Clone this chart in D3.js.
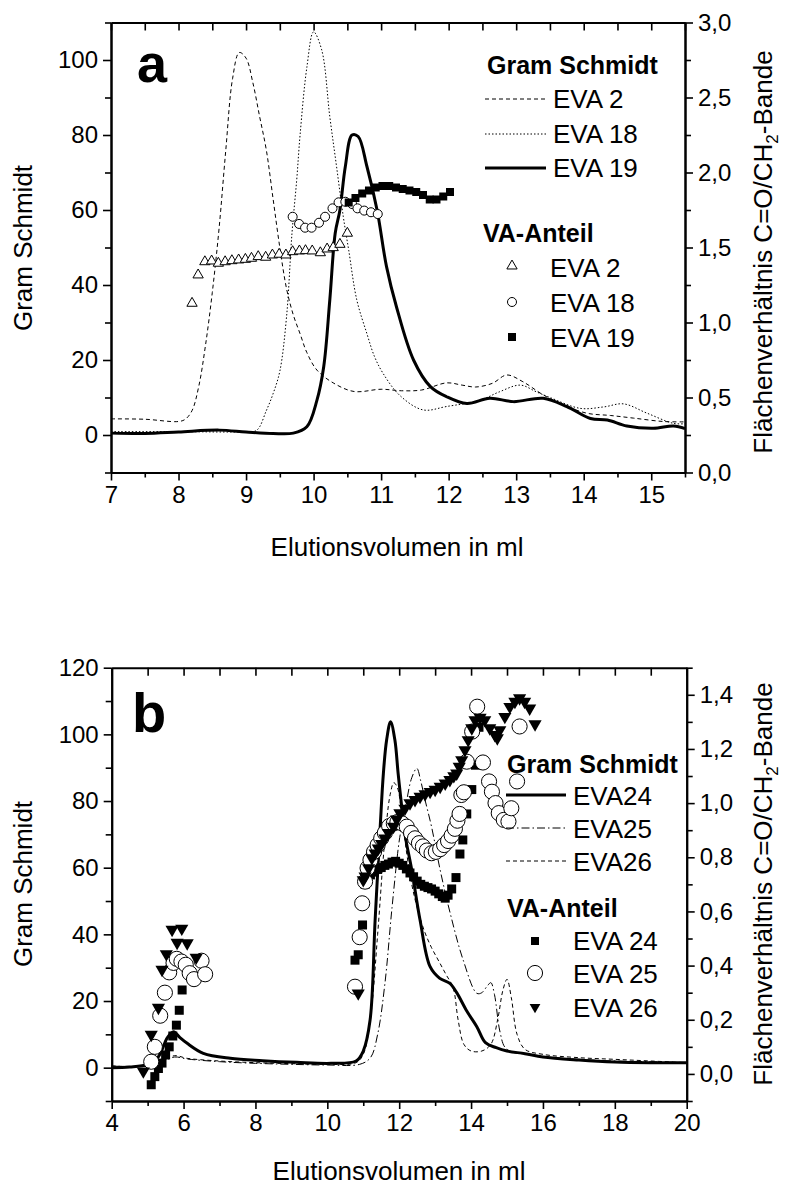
<!DOCTYPE html>
<html><head><meta charset="utf-8">
<script src="https://cdnjs.cloudflare.com/ajax/libs/d3/7.8.5/d3.min.js"></script>
<style>body{margin:0;background:#fff} svg text{font-family:"Liberation Sans",Arial,sans-serif}</style>
</head><body><svg id="c" width="795" height="1185"></svg>
<script>
// ---------------- DATA: panel a ----------------
const aXTicks = [7,8,9,10,11,12,13,14,15];
const aLeftTicks = [0,20,40,60,80,100];
const aRightTicks = [0,0.5,1.0,1.5,2.0,2.5,3.0];
const aGS_EVA2 = [[7,4.3],[7.5,4.2],[8.0,3.6],[8.1,4.2],[8.2,6.5],[8.3,13],[8.4,24],[8.5,38],[8.6,55],[8.7,76],[8.8,95],[8.9,102],[9.0,100.5],[9.1,94],[9.2,85],[9.3,76],[9.4,63],[9.5,50],[9.6,39],[9.7,32],[9.8,27],[9.9,22],[10.05,17.3],[10.3,13.8],[10.6,11.6],[11.0,12.2],[11.3,11.8],[11.6,12],[11.97,13.9],[12.2,13.3],[12.4,12.8],[12.65,13.8],[12.86,16],[13.1,14.2],[13.4,10.7],[13.7,8],[14.05,5.8],[14.4,5.2],[14.74,4.5],[15.18,3.6],[15.5,3.5]];
const aGS_EVA18 = [[7,0.9],[8,0.9],[9.0,0.9],[9.16,1.3],[9.3,6.5],[9.4,11],[9.5,17],[9.6,31.6],[9.68,53.8],[9.75,68],[9.8,80],[9.9,98],[10.0,107.5],[10.12,102.7],[10.24,84.9],[10.34,71.6],[10.44,58.2],[10.52,49.3],[10.64,36],[10.79,27],[10.9,21],[11.03,16.4],[11.28,10.5],[11.62,6.7],[11.97,7.6],[12.47,9.3],[12.75,11.5],[13.06,13.3],[13.3,11.5],[13.5,10],[13.95,7.1],[14.3,7.5],[14.59,8.3],[14.94,5.8],[15.33,3.1],[15.5,3.0]];
const aGS_EVA19 = [[7,0.5],[7.5,0.4],[8,0.8],[8.6,1.3],[9.0,0.8],[9.4,0.4],[9.7,0.5],[9.9,2.2],[10.05,9.3],[10.15,18.2],[10.24,36],[10.32,53.8],[10.39,60],[10.47,71.6],[10.57,80],[10.66,79.6],[10.79,71.6],[10.94,60],[11.08,44.9],[11.23,34],[11.48,20],[11.73,12.9],[11.97,10.2],[12.27,8.4],[12.61,9.8],[12.96,8.9],[13.4,9.8],[13.75,7.6],[14.1,4.4],[14.35,4],[14.64,2.4],[15.03,1.8],[15.33,2.4],[15.5,1.7]];
const aVA_EVA2 = [[8.2,1.128],[8.29,1.317],[8.39,1.405],[8.49,1.41],[8.59,1.395],[8.69,1.405],[8.79,1.412],[8.89,1.417],[8.99,1.421],[9.08,1.428],[9.18,1.439],[9.29,1.435],[9.39,1.45],[9.49,1.455],[9.59,1.45],[9.69,1.472],[9.79,1.477],[9.88,1.479],[9.98,1.477],[10.1,1.465],[10.2,1.49],[10.29,1.499],[10.39,1.521],[10.5,1.595]];
const aVA_EVA18 = [[9.69,1.705],[9.785,1.657],[9.874,1.632],[9.97,1.632],[10.08,1.665],[10.17,1.705],[10.28,1.761],[10.37,1.801],[10.47,1.805],[10.57,1.79],[10.65,1.761],[10.75,1.746],[10.85,1.735],[10.95,1.723]];
const aVA_EVA19 = [[10.52,1.80],[10.62,1.83],[10.72,1.86],[10.82,1.88],[10.92,1.90],[11.02,1.91],[11.12,1.91],[11.22,1.90],[11.32,1.89],[11.42,1.88],[11.52,1.87],[11.62,1.85],[11.72,1.82],[11.82,1.82],[11.92,1.84],[12.02,1.87]];

// ---------------- DATA: panel b ----------------
const bXTicks = [4,6,8,10,12,14,16,18,20];
const bLeftTicks = [0,20,40,60,80,100,120];
const bRightTicks = [0,0.2,0.4,0.6,0.8,1.0,1.2,1.4];
const bGS_EVA24 = [[4,0],[4.5,0.2],[5.0,1],[5.3,3.3],[5.55,9],[5.72,10.8],[5.9,9],[6.1,7.3],[6.55,4.3],[7.3,2.8],[8.2,2.1],[9.15,1.6],[10.1,1.3],[10.8,2],[11.0,5],[11.19,14.3],[11.33,44.3],[11.47,72],[11.56,88.3],[11.65,98.3],[11.76,103.8],[11.88,98.3],[11.97,88.3],[12.07,78.3],[12.16,70],[12.35,59.3],[12.58,44.3],[12.86,30.3],[13.13,26.8],[13.41,25.3],[13.6,22.5],[13.88,17],[14.16,12.3],[14.4,7.5],[14.7,6],[15.0,5],[15.5,4.2],[16,3.2],[17,2.3],[18,1.7],[19,1.5],[20,1.5]];
const bGS_EVA25 = [[4,0.5],[5,0.5],[5.4,1.8],[5.75,3.2],[6.1,2.6],[7,1.8],[8,1.3],[9,1],[10,0.8],[10.9,1],[11.2,3],[11.4,10],[11.6,25],[11.8,48],[12.0,68],[12.1,74],[12.21,80.3],[12.35,87],[12.49,89.8],[12.6,86],[12.72,80.3],[12.9,72.3],[13.14,59.3],[13.42,46.3],[13.78,32.3],[14.16,22.3],[14.3,22.5],[14.45,24.5],[14.55,25.5],[14.65,22],[14.8,11],[14.95,6],[15.2,4.5],[15.6,4],[16,3.3],[17,2.5],[18,2],[19,1.8],[20,1.5]];
const bGS_EVA26 = [[4,0.5],[5,0.6],[5.4,2],[5.75,3.6],[6.1,2.8],[7,2],[8,1.5],[9,1.2],[10,1],[10.8,1.5],[11.0,4],[11.2,15],[11.4,40],[11.55,62],[11.65,74],[11.75,82],[11.85,85.5],[11.95,84],[12.05,78],[12.2,65],[12.35,55],[12.5,48],[12.7,41],[12.9,36],[13.1,32],[13.3,28],[13.5,24],[13.64,14.3],[13.8,7],[14.0,5],[14.3,5],[14.55,7],[14.75,15],[14.88,23],[15.0,26.5],[15.12,21],[15.28,10],[15.5,5.5],[16,4],[17,3],[18,2.5],[19,2],[20,1.5]];
const bVA_EVA24 = [[5.1,-0.04],[5.2,-0.01],[5.3,0.02],[5.4,0.04],[5.5,0.07],[5.6,0.1],[5.7,0.14],[5.8,0.18],[5.88,0.235],[5.96,0.31],
 [10.77,0.42],[10.86,0.44],[10.98,0.55],[11.05,0.70],[11.1,0.72],[11.2,0.735],[11.3,0.745],[11.4,0.755],[11.5,0.762],[11.6,0.77],[11.7,0.775],[11.8,0.782],[11.9,0.785],[12.0,0.778],[12.1,0.77],[12.2,0.757],[12.3,0.742],[12.4,0.728],[12.5,0.712],[12.6,0.70],[12.7,0.693],[12.8,0.688],[12.9,0.683],[13.0,0.675],[13.1,0.665],[13.2,0.655],[13.28,0.649],[13.36,0.66],[13.46,0.683],[13.58,0.725],[13.69,0.812],[13.77,0.864],[13.88,0.96],[14.02,1.05],[14.12,1.14],[14.22,1.28]];
const bVA_EVA25 = [[5.1,0.045],[5.2,0.1],[5.35,0.215],[5.48,0.30],[5.6,0.375],[5.72,0.41],[5.81,0.425],[5.94,0.415],[6.06,0.403],[6.17,0.372],[6.29,0.35],[6.5,0.418],[6.6,0.368],
 [10.77,0.322],[10.9,0.505],[10.97,0.63],[11.05,0.71],[11.12,0.76],[11.2,0.79],[11.3,0.82],[11.4,0.845],[11.5,0.87],[11.6,0.89],[11.72,0.915],[11.85,0.925],[11.95,0.93],[12.08,0.925],[12.21,0.913],[12.33,0.89],[12.44,0.87],[12.55,0.852],[12.66,0.84],[12.77,0.825],[12.9,0.815],[13.02,0.82],[13.14,0.83],[13.25,0.845],[13.36,0.86],[13.46,0.88],[13.55,0.905],[13.62,0.935],[13.68,0.96],[13.73,1.03],[13.8,1.04],[13.88,1.153],[14.03,1.264],[14.17,1.356],[14.33,1.15],[14.5,1.08],[14.58,1.042],[14.68,1.0],[14.77,0.963],[14.91,0.938],[15.04,0.932],[15.12,0.981],[15.28,1.08],[15.35,1.283]];
const bVA_EVA26 = [[4.88,0.01],[5.1,0.145],[5.3,0.245],[5.4,0.385],[5.52,0.443],[5.68,0.533],[5.82,0.485],[5.95,0.537],[6.1,0.483],[6.35,0.43],
 [10.86,0.298],[11.0,0.716],[11.05,0.73],[11.15,0.76],[11.24,0.797],[11.33,0.815],[11.42,0.833],[11.51,0.85],[11.6,0.87],[11.7,0.89],[11.84,0.913],[11.93,0.94],[12.02,0.963],[12.16,0.98],[12.3,1.0],[12.44,1.012],[12.58,1.024],[12.72,1.033],[12.86,1.042],[13.0,1.05],[13.14,1.061],[13.28,1.073],[13.41,1.086],[13.52,1.1],[13.6,1.11],[13.67,1.135],[13.74,1.159],[13.83,1.196],[13.92,1.233],[14.02,1.277],[14.11,1.307],[14.25,1.316],[14.38,1.307],[14.52,1.277],[14.66,1.252],[14.73,1.24],[14.8,1.27],[14.94,1.319],[15.08,1.356],[15.22,1.375],[15.35,1.388],[15.49,1.375],[15.63,1.35],[15.78,1.292]];

// ---------------- DRAW ----------------
const svg = d3.select("#c");
const FONT = '"Liberation Sans", Arial, sans-serif';
const comma = d => d3.format(".1f")(d).replace(".", ",");
const range = (a,b,s) => d3.range(a, b + s/2, s);

function frameAxes(P, x, yL, yR, o){
  const g = svg.append("g");
  const st = sel => { sel.select(".domain").attr("stroke-width",2);
    sel.selectAll(".tick line").attr("stroke-width",1.6);
    sel.attr("font-size",o.fs).attr("font-family",FONT).selectAll("text").attr("fill","#000"); };
  g.append("g").attr("transform",`translate(0,${P.b})`)
    .call(d3.axisBottom(x).tickValues(o.xMinor).tickSize(5).tickSizeOuter(0).tickFormat("")).call(st);
  g.append("g").attr("transform",`translate(0,${P.b})`)
    .call(d3.axisBottom(x).tickValues(o.xTicks).tickSize(8).tickSizeOuter(0).tickPadding(5)).call(st);
  g.append("g").attr("transform",`translate(0,${P.t})`)
    .call(d3.axisTop(x).tickValues(o.xMinor.concat(o.xTicks)).tickSize(-8).tickSizeOuter(0).tickFormat("")).call(st);
  g.append("g").attr("transform",`translate(${P.l},0)`)
    .call(d3.axisLeft(yL).tickValues(o.lMinor).tickSize(6).tickSizeOuter(0).tickFormat("")).call(st);
  g.append("g").attr("transform",`translate(${P.l},0)`)
    .call(d3.axisLeft(yL).tickValues(o.lTicks).tickSize(8).tickSizeOuter(0).tickPadding(5)).call(st);
  g.append("g").attr("transform",`translate(${P.r},0)`)
    .call(d3.axisRight(yR).tickValues(o.rMinor).tickSize(6).tickSizeOuter(0).tickFormat("")).call(st);
  g.append("g").attr("transform",`translate(${P.r},0)`)
    .call(d3.axisRight(yR).tickValues(o.rTicks).tickSize(8).tickSizeOuter(0).tickPadding(5).tickFormat(comma)).call(st);
}

function lineFor(x, y){ return d3.line().x(d=>x(d[0])).y(d=>y(d[1])).curve(d3.curveCatmullRom.alpha(0.5)); }

function rightTitle(cx, cy){
  const t = svg.append("text").attr("transform",`translate(${cx},${cy}) rotate(-90)`)
    .attr("text-anchor","middle").attr("font-size",26).attr("font-family",FONT);
  t.append("tspan").text("Flächenverhältnis C=O/CH");
  t.append("tspan").attr("font-size",17).attr("dy",6).text("2");
  t.append("tspan").attr("dy",-6).text("-Bande");
}
function leftTitle(cx, cy, s){
  svg.append("text").attr("transform",`translate(${cx},${cy}) rotate(-90)`)
    .attr("text-anchor","middle").attr("font-size",26).attr("font-family",FONT).text(s);
}
function txt(x,y,s,fs,bold,anchor){
  svg.append("text").attr("x",x).attr("y",y).attr("font-size",fs).attr("font-family",FONT)
    .attr("font-weight",bold?"bold":"normal").attr("text-anchor",anchor||"start").text(s);
}

// ===== Panel a =====
const PA = {l:111, r:685, t:22.5, b:472.5};
const xa = d3.scaleLinear().domain([7,15.5]).range([PA.l,PA.r]);
const yaL = d3.scaleLinear().domain([-10,110]).range([PA.b,PA.t]);
const yaR = d3.scaleLinear().domain([0,3]).range([PA.b,PA.t]);

const ga = svg.append("g");
ga.append("path").datum(aGS_EVA2).attr("d",lineFor(xa,yaL)).attr("fill","none").attr("stroke","#000").attr("stroke-width",1).attr("stroke-dasharray","4,3");
ga.append("path").datum(aGS_EVA18).attr("d",lineFor(xa,yaL)).attr("fill","none").attr("stroke","#000").attr("stroke-width",1).attr("stroke-dasharray","1.5,2");
ga.append("path").datum(aGS_EVA19).attr("d",lineFor(xa,yaL)).attr("fill","none").attr("stroke","#000").attr("stroke-width",3);

const triA = d3.symbol(d3.symbolTriangle, 46)();
const cirA = d3.symbol(d3.symbolCircle, 64)();
const sqA = d3.symbol(d3.symbolSquare, 64)();
ga.selectAll(".ta").data(aVA_EVA2).join("path").attr("d",triA)
  .attr("transform",d=>`translate(${xa(d[0])},${yaR(d[1])})`).attr("fill","#fff").attr("stroke","#000").attr("stroke-width",1);
ga.selectAll(".ca").data(aVA_EVA18).join("path").attr("d",cirA)
  .attr("transform",d=>`translate(${xa(d[0])},${yaR(d[1])})`).attr("fill","#fff").attr("stroke","#000").attr("stroke-width",1);
ga.selectAll(".sa").data(aVA_EVA19).join("path").attr("d",sqA)
  .attr("transform",d=>`translate(${xa(d[0])},${yaR(d[1])})`).attr("fill","#000");

frameAxes(PA, xa, yaL, yaR, {fs:24, xTicks:aXTicks, xMinor:range(7.5,15.5,1),
  lTicks:aLeftTicks, lMinor:range(-10,110,20), rTicks:aRightTicks, rMinor:range(0.25,3,0.5)});

txt(137,82,"a",54,true);
txt(487,74,"Gram Schmidt",25,true);
const legA = [["EVA 2","4,3",1,99,108],["EVA 18","1.5,2",1,134,143],["EVA 19",null,3,168,177]];
legA.forEach(r=>{
  svg.append("line").attr("x1",485).attr("x2",546).attr("y1",r[3]).attr("y2",r[3]).attr("stroke","#000")
    .attr("stroke-width",r[2]).attr("stroke-dasharray",r[1]);
  txt(553,r[4],r[0],26,false);
});
txt(483,242,"VA-Anteil",25,true);
svg.append("path").attr("d",triA).attr("transform","translate(512,266)").attr("fill","#fff").attr("stroke","#000");
svg.append("path").attr("d",cirA).attr("transform","translate(512,302)").attr("fill","#fff").attr("stroke","#000");
svg.append("path").attr("d",sqA).attr("transform","translate(512,337)").attr("fill","#000");
txt(550,277,"EVA 2",26,false); txt(550,312,"EVA 18",26,false); txt(550,347,"EVA 19",26,false);

leftTitle(32,248,"Gram Schmidt");
rightTitle(772,252);
txt(397,556,"Elutionsvolumen  in ml",26,false,"middle");

// ===== Panel b =====
const PB = {l:111.7, r:686.7, t:667.7, b:1101};
const xb = d3.scaleLinear().domain([4,20]).range([PB.l,PB.r]);
const ybL = d3.scaleLinear().domain([-10,120]).range([PB.b,PB.t]);
const ybR = d3.scaleLinear().domain([-0.1,1.5]).range([PB.b,PB.t]);

const gb = svg.append("g");
gb.append("path").datum(bGS_EVA26).attr("d",lineFor(xb,ybL)).attr("fill","none").attr("stroke","#000").attr("stroke-width",1).attr("stroke-dasharray","4,3");
gb.append("path").datum(bGS_EVA25).attr("d",lineFor(xb,ybL)).attr("fill","none").attr("stroke","#000").attr("stroke-width",1).attr("stroke-dasharray","8,3,1.5,3");
gb.append("path").datum(bGS_EVA24).attr("d",lineFor(xb,ybL)).attr("fill","none").attr("stroke","#000").attr("stroke-width",3);

const sqB = d3.symbol(d3.symbolSquare, 81)();
const cirB = d3.symbol(d3.symbolCircle, 180)();
const triB = d3.symbol(d3.symbolTriangle, 75)();
gb.selectAll(".sb").data(bVA_EVA24).join("path").attr("d",sqB)
  .attr("transform",d=>`translate(${xb(d[0])},${ybR(d[1])})`).attr("fill","#000");
gb.selectAll(".cb").data(bVA_EVA25).join("path").attr("d",cirB)
  .attr("transform",d=>`translate(${xb(d[0])},${ybR(d[1])})`).attr("fill","#fff").attr("stroke","#000").attr("stroke-width",1);
gb.selectAll(".tb").data(bVA_EVA26).join("path").attr("d",triB)
  .attr("transform",d=>`translate(${xb(d[0])},${ybR(d[1])}) rotate(180)`).attr("fill","#000");

frameAxes(PB, xb, ybL, ybR, {fs:24, xTicks:bXTicks, xMinor:range(5,19,2),
  lTicks:bLeftTicks, lMinor:range(-10,110,20), rTicks:bRightTicks, rMinor:range(-0.1,1.5,0.2)});

txt(132,732,"b",56,true);
txt(507,773,"Gram Schmidt",25,true);
const legB = [["EVA24",null,3,795,805],["EVA25","8,3,1.5,3",1,828,838],["EVA26","4,3",1,861,871]];
legB.forEach(r=>{
  svg.append("line").attr("x1",506).attr("x2",566).attr("y1",r[3]).attr("y2",r[3]).attr("stroke","#000")
    .attr("stroke-width",r[2]).attr("stroke-dasharray",r[1]);
  txt(573,r[4],r[0],26,false);
});
txt(507,917,"VA-Anteil",25,true);
svg.append("path").attr("d",d3.symbol(d3.symbolSquare,64)()).attr("transform","translate(535,941)").attr("fill","#000");
svg.append("path").attr("d",cirB).attr("transform","translate(535,973)").attr("fill","#fff").attr("stroke","#000");
svg.append("path").attr("d",d3.symbol(d3.symbolTriangle,50)()).attr("transform","translate(535,1007) rotate(180)").attr("fill","#000");
txt(573,950,"EVA 24",26,false); txt(573,983,"EVA 25",26,false); txt(573,1017,"EVA 26",26,false);

leftTitle(32,884,"Gram Schmidt");
rightTitle(772,884);
txt(399,1180,"Elutionsvolumen in ml",26,false,"middle");
</script></body></html>
